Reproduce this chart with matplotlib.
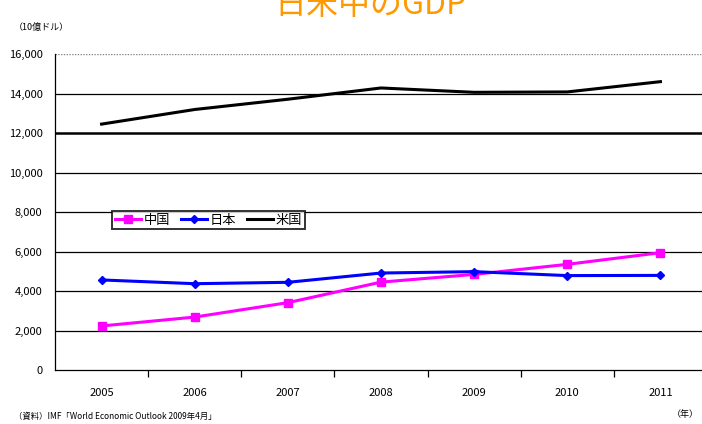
import numpy as np
import matplotlib
matplotlib.use('Agg')
import matplotlib.pyplot as plt

plt.rcParams['font.family'] = ['Noto Sans CJK JP', 'DejaVu Sans']

years  = ['2005', '2006', '2007', '2008', '2009', '2010', '2011']
china  = [2230, 2680, 3410, 4450, 4840, 5350, 5940]
japan  = [4560, 4370, 4440, 4910, 4980, 4780, 4790]
usa    = [12450, 13190, 13710, 14280, 14060, 14080, 14600]
yticks = [0, 2000, 4000, 6000, 8000, 10000, 12000, 14000, 16000]


def main():
    fig = plt.figure(figsize = (7.02, 4.24), dpi = 100)
    ax  = fig.add_axes([55 / 702, 1 - 370 / 424, 652 / 702, 316 / 424])

    x = np.arange(len(years))

    ax.plot(x, china, color = '#ff00ff', lw = 2.2, marker = 's', ms = 6, label = '中国', zorder = 4)
    ax.plot(x, japan, color = '#0000ff', lw = 2.2, marker = 'D', ms = 4.5, label = '日本', zorder = 4)
    ax.plot(x, usa,   color = 'black',   lw = 2.2, label = '米国', zorder = 4)

    ax.set_xlim(-0.5, len(years) - 0.5)
    ax.set_ylim(0, 16000)

    for v in yticks[1:-1]:
        ax.axhline(v, color = 'black', lw = 1.8 if v == 12000 else 0.9, zorder = 1)
    ax.axhline(16000, color = '#888888', lw = 1.0, ls = (0, (1, 1)), zorder = 1)

    ax.set_yticks(yticks)
    ax.set_yticklabels(['{:,}'.format(v) for v in yticks], fontsize = 8)
    ax.tick_params(axis = 'y', length = 0, pad = 9)

    ax.set_xticks(x)
    ax.set_xticklabels(years, fontsize = 8)
    ax.tick_params(axis = 'x', length = 0, pad = 13)
    ax.set_xticks(np.arange(len(years) - 1) + 0.5, minor = True)
    ax.tick_params(axis = 'x', which = 'minor', length = 5, width = 0.9, direction = 'out')

    for side in ['top', 'right']:
        ax.spines[side].set_visible(False)
    ax.spines['left'].set_linewidth(0.9)
    ax.spines['bottom'].set_linewidth(0.9)

    leg = ax.legend(loc = 'upper left', bbox_to_anchor = (57 / 652, 159 / 316), ncol = 3,
                    fontsize = 9.5, frameon = True, fancybox = False, edgecolor = 'black',
                    handlelength = 2.0, handletextpad = 0.2, columnspacing = 0.8,
                    borderpad = 0.2, borderaxespad = 0)
    leg.get_frame().set_linewidth(1.4)

    fig.text(370 / 702, 1 - 14 / 424, '日米中のGDP', color = '#ff9900', fontsize = 23,
             ha = 'center', va = 'baseline')
    fig.text(14 / 702, 1 - 27 / 424, '（10億ドル）', fontsize = 6.5, va = 'center')
    fig.text(14 / 702, 1 - 416 / 424, '（資料）IMF「World Economic Outlook 2009年4月」', fontsize = 6,
             va = 'center')
    fig.text(699 / 702, 1 - 414 / 424, '（年）', fontsize = 6.5, ha = 'right', va = 'center')

    fig.savefig('out.png', dpi = 100)
    plt.close(fig)


if __name__ == "__main__":
    main()
